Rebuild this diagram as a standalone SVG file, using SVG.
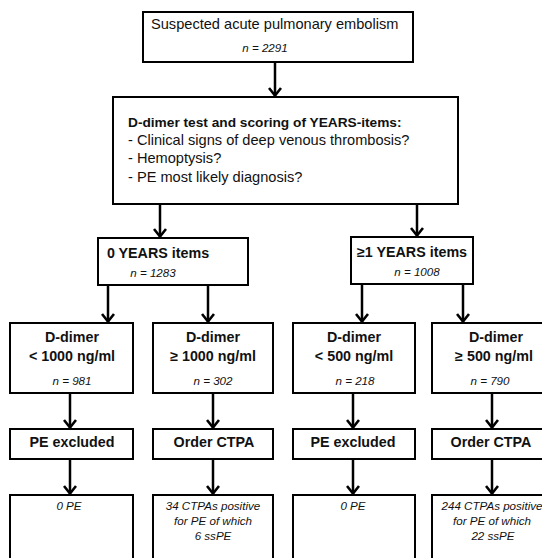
<svg xmlns="http://www.w3.org/2000/svg" width="542" height="558" viewBox="0 0 542 558">
  <style>
    .box { fill: #ffffff; stroke: #000000; stroke-width: 2; }
    .link { stroke: #000000; stroke-width: 2.5; fill: none; marker-end: url(#head); }
    text { font-family: "Liberation Sans", Arial, sans-serif; fill: #111111; }
    .reg { font-size: 14.6px; }
    .bold { font-size: 14.3px; font-weight: bold; }
    .title { font-size: 13.7px; font-weight: bold; }
    .n { font-size: 11.6px; font-style: italic; }
    .res { font-size: 11.6px; font-style: italic; }
    .mid { text-anchor: middle; }
  </style>
  <defs>
    <marker id="head" viewBox="-1 -7 10 14" markerWidth="10" markerHeight="14" refX="8" refY="0" orient="auto" markerUnits="userSpaceOnUse">
      <path d="M0,-6 L7.5,0 L0,6" fill="none" stroke="#000000" stroke-width="2.6"/>
    </marker>
  </defs>
  <rect width="542" height="558" fill="#ffffff"/>

  <g id="connectors">
    <line class="link" x1="275" y1="62" x2="275" y2="96"/>
    <line class="link" x1="160" y1="204" x2="160" y2="237"/>
    <line class="link" x1="417" y1="204" x2="417" y2="236"/>
    <line class="link" x1="108" y1="285" x2="108" y2="322"/>
    <line class="link" x1="208" y1="285" x2="208" y2="322"/>
    <line class="link" x1="362" y1="284" x2="362" y2="322"/>
    <line class="link" x1="463" y1="284" x2="463" y2="322"/>
    <line class="link" x1="70" y1="393" x2="70" y2="428"/>
    <line class="link" x1="213" y1="393" x2="213" y2="428"/>
    <line class="link" x1="353" y1="393" x2="353" y2="428"/>
    <line class="link" x1="492" y1="393" x2="492" y2="428"/>
    <line class="link" x1="70" y1="459" x2="70" y2="494"/>
    <line class="link" x1="213" y1="459" x2="213" y2="494"/>
    <line class="link" x1="353" y1="459" x2="353" y2="494"/>
    <line class="link" x1="492" y1="459" x2="492" y2="494"/>
  </g>

  <g id="suspected">
    <rect class="box" x="143" y="12" width="270" height="50"/>
    <text class="reg" x="151" y="29">Suspected acute pulmonary embolism</text>
    <text class="n mid" x="265" y="52">n = 2291</text>
  </g>

  <g id="scoring">
    <rect class="box" x="113" y="97" width="345" height="107"/>
    <text class="title" x="128" y="127">D-dimer test and scoring of YEARS-items:</text>
    <text class="reg" x="128" y="145">- Clinical signs of deep venous thrombosis?</text>
    <text class="reg" x="128" y="163">- Hemoptysis?</text>
    <text class="reg" x="128" y="182">- PE most likely diagnosis?</text>
  </g>

  <g id="years0">
    <rect class="box" x="98" y="238" width="150" height="47"/>
    <text class="bold mid" x="158" y="258">0 YEARS items</text>
    <text class="n mid" x="153" y="277">n = 1283</text>
  </g>

  <g id="years1">
    <rect class="box" x="351" y="237" width="122" height="47"/>
    <text class="bold mid" x="412" y="257">≥1 YEARS items</text>
    <text class="n mid" x="417" y="276">n = 1008</text>
  </g>

  <g id="dd-lt1000">
    <rect class="box" x="10" y="323" width="123" height="70"/>
    <text class="bold mid" x="72" y="342">D-dimer</text>
    <text class="bold mid" x="72" y="361">&lt; 1000 ng/ml</text>
    <text class="n mid" x="72" y="385">n = 981</text>
  </g>

  <g id="dd-ge1000">
    <rect class="box" x="153" y="323" width="120" height="70"/>
    <text class="bold mid" x="213" y="342">D-dimer</text>
    <text class="bold mid" x="213" y="361">≥ 1000 ng/ml</text>
    <text class="n mid" x="213" y="385">n = 302</text>
  </g>

  <g id="dd-lt500">
    <rect class="box" x="293" y="323" width="122" height="70"/>
    <text class="bold mid" x="354" y="342">D-dimer</text>
    <text class="bold mid" x="354" y="361">&lt; 500 ng/ml</text>
    <text class="n mid" x="355" y="385">n = 218</text>
  </g>

  <g id="dd-ge500">
    <rect class="box" x="432" y="323" width="124" height="70"/>
    <text class="bold mid" x="496" y="342">D-dimer</text>
    <text class="bold mid" x="494" y="361">≥ 500 ng/ml</text>
    <text class="n mid" x="490" y="385">n = 790</text>
  </g>

  <g id="excluded-a">
    <rect class="box" x="10" y="429" width="123" height="30"/>
    <text class="bold mid" x="72" y="447">PE excluded</text>
  </g>

  <g id="ctpa-a">
    <rect class="box" x="153" y="429" width="120" height="30"/>
    <text class="bold mid" x="214" y="447">Order CTPA</text>
  </g>

  <g id="excluded-b">
    <rect class="box" x="293" y="429" width="122" height="30"/>
    <text class="bold mid" x="353" y="447">PE excluded</text>
  </g>

  <g id="ctpa-b">
    <rect class="box" x="432" y="429" width="124" height="30"/>
    <text class="bold mid" x="491" y="447">Order CTPA</text>
  </g>

  <g id="result-a">
    <rect class="box" x="10" y="495" width="123" height="80"/>
    <text class="res mid" x="69" y="510">0 PE</text>
  </g>

  <g id="result-b">
    <rect class="box" x="153" y="495" width="120" height="80"/>
    <text class="res mid" x="213" y="510">34 CTPAs positive</text>
    <text class="res mid" x="213" y="525">for PE of which</text>
    <text class="res mid" x="213" y="540">6 ssPE</text>
  </g>

  <g id="result-c">
    <rect class="box" x="293" y="495" width="122" height="80"/>
    <text class="res mid" x="353" y="510">0 PE</text>
  </g>

  <g id="result-d">
    <rect class="box" x="432" y="495" width="124" height="80"/>
    <text class="res mid" x="492" y="510">244 CTPAs positive</text>
    <text class="res mid" x="492" y="525">for PE of which</text>
    <text class="res mid" x="493" y="540">22 ssPE</text>
  </g>
</svg>
